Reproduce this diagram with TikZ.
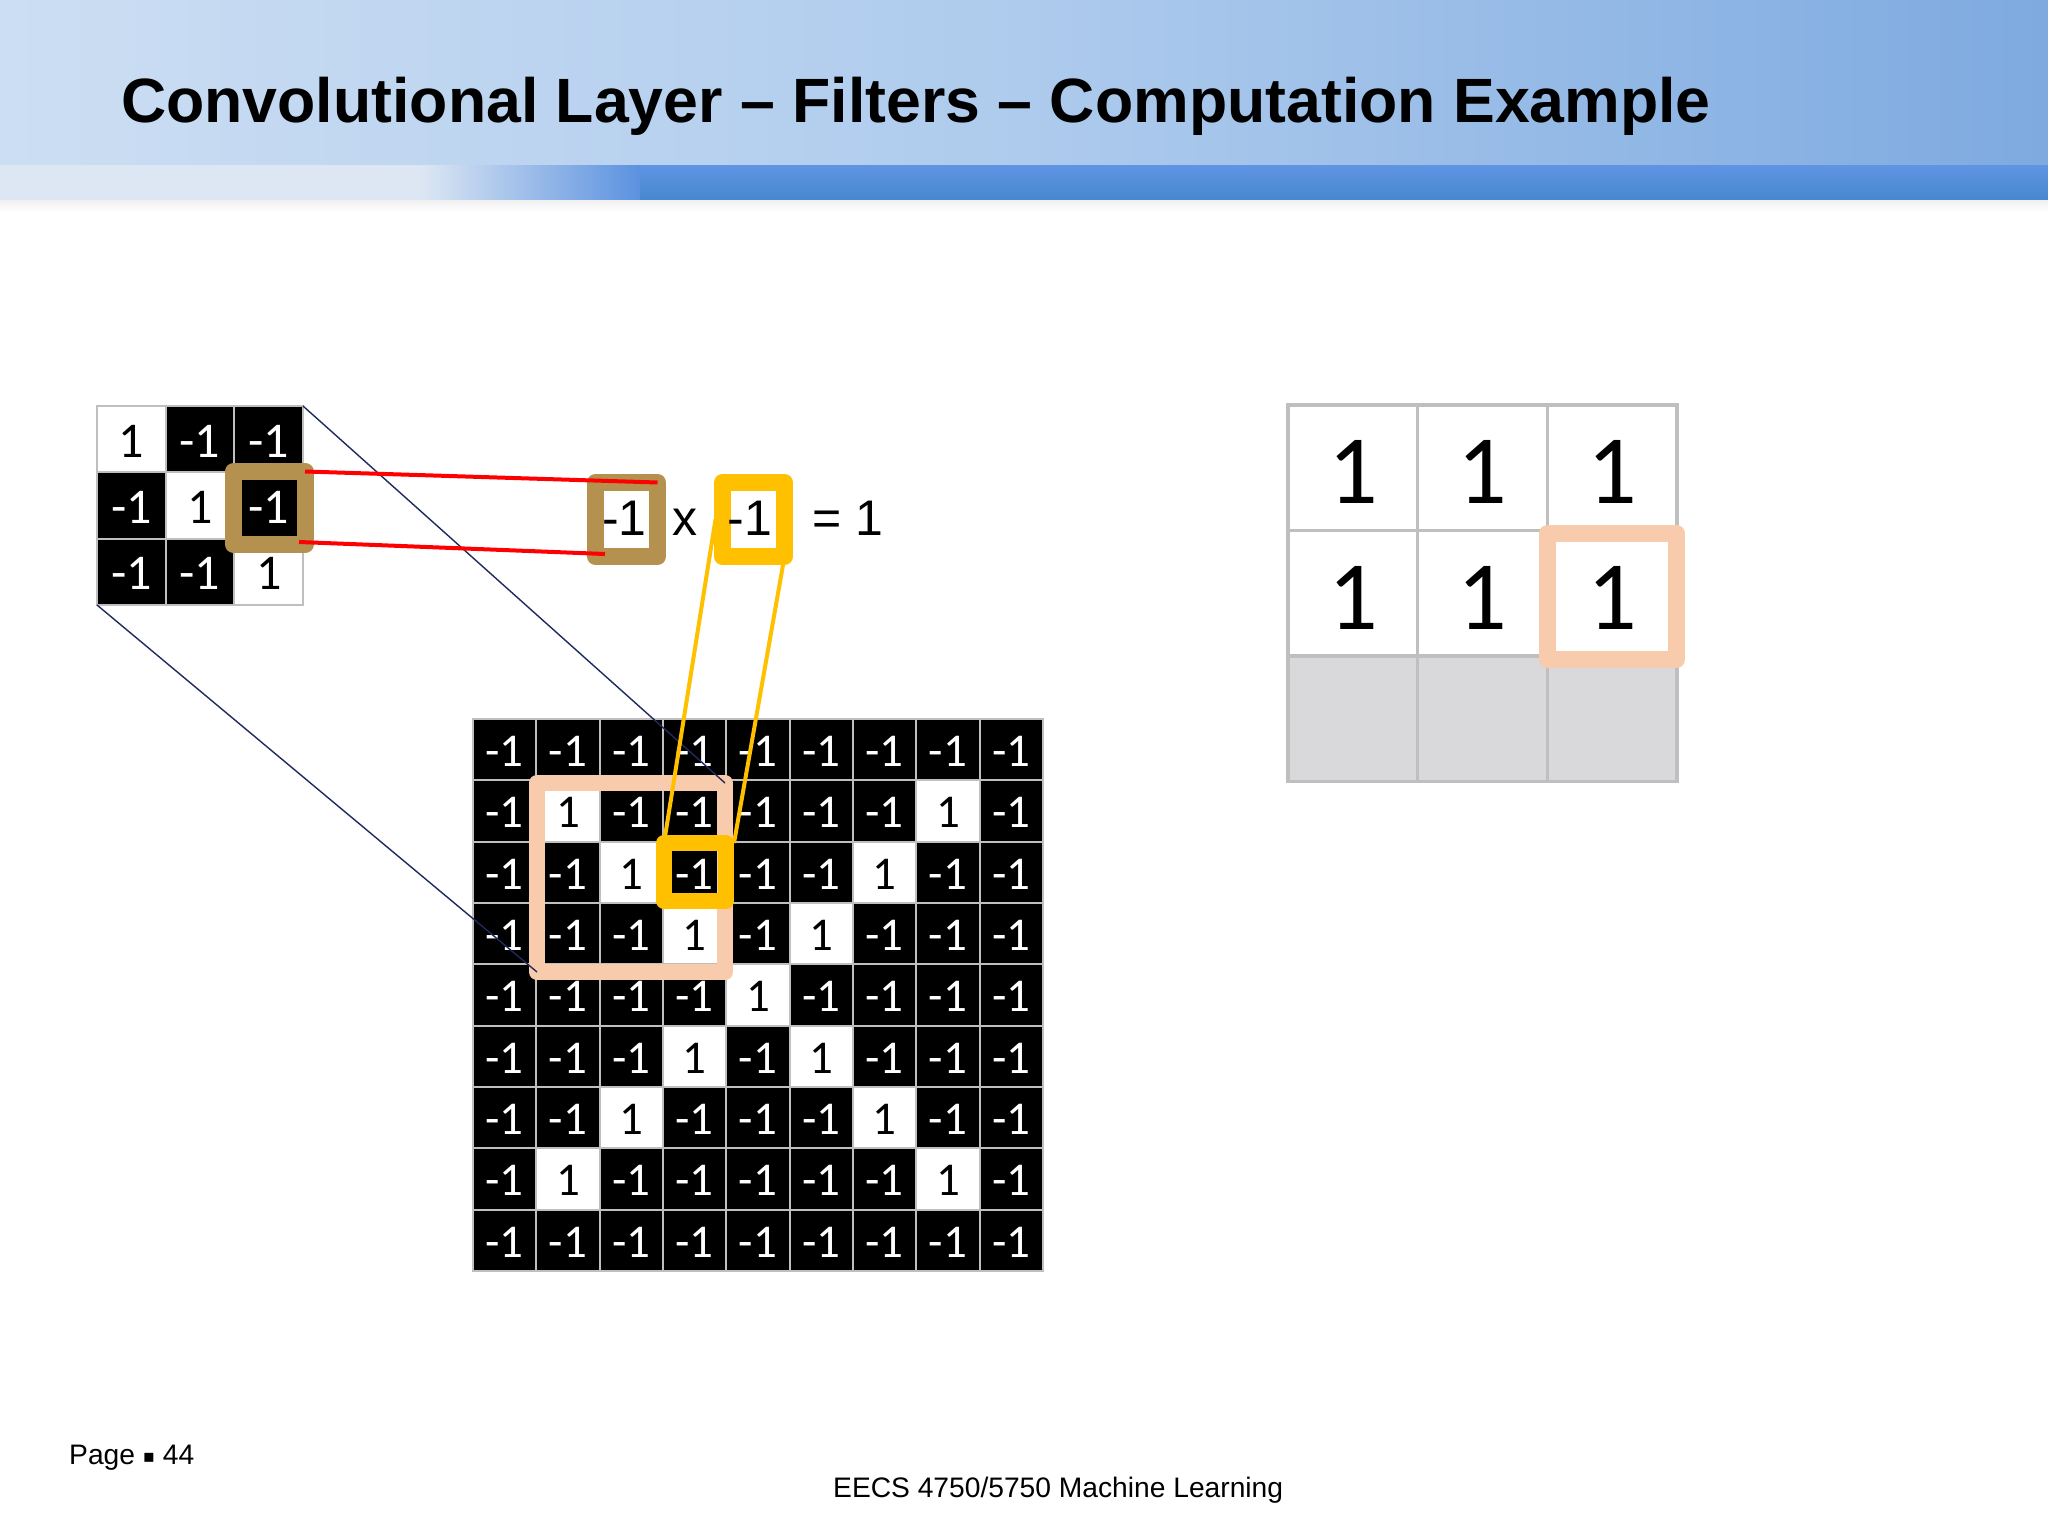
\documentclass[tikz,border=0pt]{standalone}
\usepackage{fontspec}
\setmainfont{Liberation Sans}
\newfontfamily\cellfont{Carlito}
\newfontfamily\symfont{DejaVu Sans}
\usetikzlibrary{calc}
\definecolor{gridgray}{HTML}{BFBFBF}
\definecolor{hlbrown}{HTML}{B5914F}
\definecolor{hlyellow}{HTML}{FFC000}
\definecolor{hlpeach}{HTML}{F8CBAD}
\definecolor{navyline}{HTML}{1F2A5E}
\definecolor{emptygray}{HTML}{D9D9DB}
\definecolor{bandleft}{RGB}{204,222,243}
\definecolor{bandmid}{RGB}{174,203,237}
\definecolor{bandright}{RGB}{126,170,224}
\definecolor{stripelight}{RGB}{221,231,243}
\definecolor{stripetop}{RGB}{96,148,228}
\definecolor{stripebot}{RGB}{70,136,206}
\begin{document}
\begin{tikzpicture}[x=1pt,y=-1pt,
  cellbase/.style={draw=gridgray, inner sep=0pt, outer sep=0pt},
  bigcell/.style={cellbase, line width=2pt, minimum width=63.33pt, minimum height=61.33pt,
    text height=33.6pt, text depth=0pt, font=\cellfont\fontsize{47pt}{50pt}\selectfont},
  smallcell/.style={cellbase, line width=2pt, minimum width=68.67pt, minimum height=66.33pt,
    text height=36pt, text depth=0pt, font=\cellfont\fontsize{50pt}{54pt}\selectfont},
  outcell/.style={cellbase, line width=3.3pt, minimum width=129.67pt, minimum height=125.5pt,
    text height=72pt, text depth=0pt, font=\cellfont\fontsize{98pt}{104pt}\selectfont},
  hlbox/.style={draw, line join=round, inner sep=0pt, outer sep=0pt},
  midtext/.style={inner sep=0pt, anchor=base, font=\fontsize{50pt}{56pt}\selectfont},
  redline/.style={draw=red, line width=4pt},
  yline/.style={draw=hlyellow, line width=4pt},
  nline/.style={draw=navyline, line width=1.4pt},
  footer/.style={inner sep=0pt, anchor=base west, font=\fontsize{28.2pt}{32pt}\selectfont}
]
\useasboundingbox (0,0) rectangle (2048,1536);
\fill[white] (0,0) rectangle (2048,1536);

% header
\shade[left color=bandleft, right color=bandright, middle color=bandmid] (0,0) rectangle (2048,165);
\fill[stripelight] (0,165) rectangle (420,200);
\shade[left color=stripelight, right color=stripetop!80!stripebot] (420,165) rectangle (640,200);
\shade[top color=stripetop, bottom color=stripebot] (640,165) rectangle (2048,200);
\shade[top color=black!6, bottom color=white] (0,200) rectangle (2048,212);
\node[inner sep=0pt, anchor=base west, font=\fontsize{62.6pt}{70pt}\selectfont\bfseries] (title) at (121,123)
  {Convolutional Layer – Filters – Computation Example};

% small filter
\foreach \rowvals [count=\rr] in {{1,-1,-1},{-1,1,-1},{-1,-1,1}}{
  \foreach \v [count=\cc] in \rowvals {
    \ifnum\v=1 \def\fc{white}\def\tc{black}\else\def\fc{black}\def\tc{white}\fi
    \node[smallcell, fill=\fc, text=\tc] (f-\rr-\cc) at ({97+(\cc-0.5)*68.67},{406+(\rr-0.5)*66.33}) {\v};
  }
}

% big image grid
\foreach \rowvals [count=\rr] in {
  {-1,-1,-1,-1,-1,-1,-1,-1,-1},
  {-1,1,-1,-1,-1,-1,-1,1,-1},
  {-1,-1,1,-1,-1,-1,1,-1,-1},
  {-1,-1,-1,1,-1,1,-1,-1,-1},
  {-1,-1,-1,-1,1,-1,-1,-1,-1},
  {-1,-1,-1,1,-1,1,-1,-1,-1},
  {-1,-1,1,-1,-1,-1,1,-1,-1},
  {-1,1,-1,-1,-1,-1,-1,1,-1},
  {-1,-1,-1,-1,-1,-1,-1,-1,-1}}{
  \foreach \v [count=\cc] in \rowvals {
    \ifnum\v=1 \def\fc{white}\def\tc{black}\else\def\fc{black}\def\tc{white}\fi
    \node[bigcell, fill=\fc, text=\tc] (g-\rr-\cc) at ({473+(\cc-0.5)*63.33},{719+(\rr-0.5)*61.33}) {\v};
  }
}

% output feature map
\foreach \rr in {1,2}{
  \foreach \cc in {1,2,3}{
    \node[outcell, fill=white] (o-\rr-\cc) at ({1288+(\cc-0.5)*129.67},{405+(\rr-0.5)*125.5}) {1};
  }
}
\foreach \cc in {1,2,3}{
  \node[outcell, fill=emptygray] (o-3-\cc) at ({1288+(\cc-0.5)*129.67},{405+2.5*125.5}) {};
}

% highlight boxes
\node[hlbox, draw=hlbrown, line width=17pt, minimum width=71.5pt, minimum height=73pt] (bA) at (269.25,508) {};
\node[hlbox, draw=hlpeach, line width=16pt, minimum width=188pt, minimum height=189pt] (pD) at (631,877.5) {};
\node[hlbox, draw=hlyellow, line width=16pt, minimum width=62pt, minimum height=58pt] (yE) at (695,872) {};
\node[hlbox, draw=hlpeach, line width=17pt, minimum width=129pt, minimum height=126pt] (pF) at (1612,596.5) {};
\node[hlbox, draw=hlbrown, fill=white, line width=17pt, minimum width=62pt, minimum height=74pt] (bB) at (626.5,519.5) {};
\node[hlbox, draw=hlyellow, fill=white, line width=17pt, minimum width=62pt, minimum height=74pt] (yC) at (753.5,519.5) {};

% product expression
\node[midtext] (tA) at (624.5,535) {-1};
\node[midtext] (tx) at (685,535) {x};
\node[midtext] (tC) at (750,535) {-1};
\node[midtext] (teq) at (847.5,535) {= 1};

% connectors
\draw[nline] (f-1-3.north east) -- (pD.north east);
\draw[nline] (f-3-1.south west) -- (pD.south west);
\draw[yline] ($(yC.west)+(-7,0)$) -- (yE.north west);
\draw[yline] (yC.south east) -- ($(yE.north east)+(8,0)$);
\draw[redline] (bA.north east) -- (bB.north east);
\draw[redline] ($(bA.south east)+(-6,-2.5)$) -- ($(bB.south west)+(9.5,-2.5)$);

% footer
\node[footer] (page) at (69,1464) {Page \raisebox{2pt}{\symfont\fontsize{18pt}{22pt}\selectfont ▪} 44};
\node[footer] (course) at (833,1497) {EECS 4750/5750 Machine Learning};
\end{tikzpicture}
\end{document}
